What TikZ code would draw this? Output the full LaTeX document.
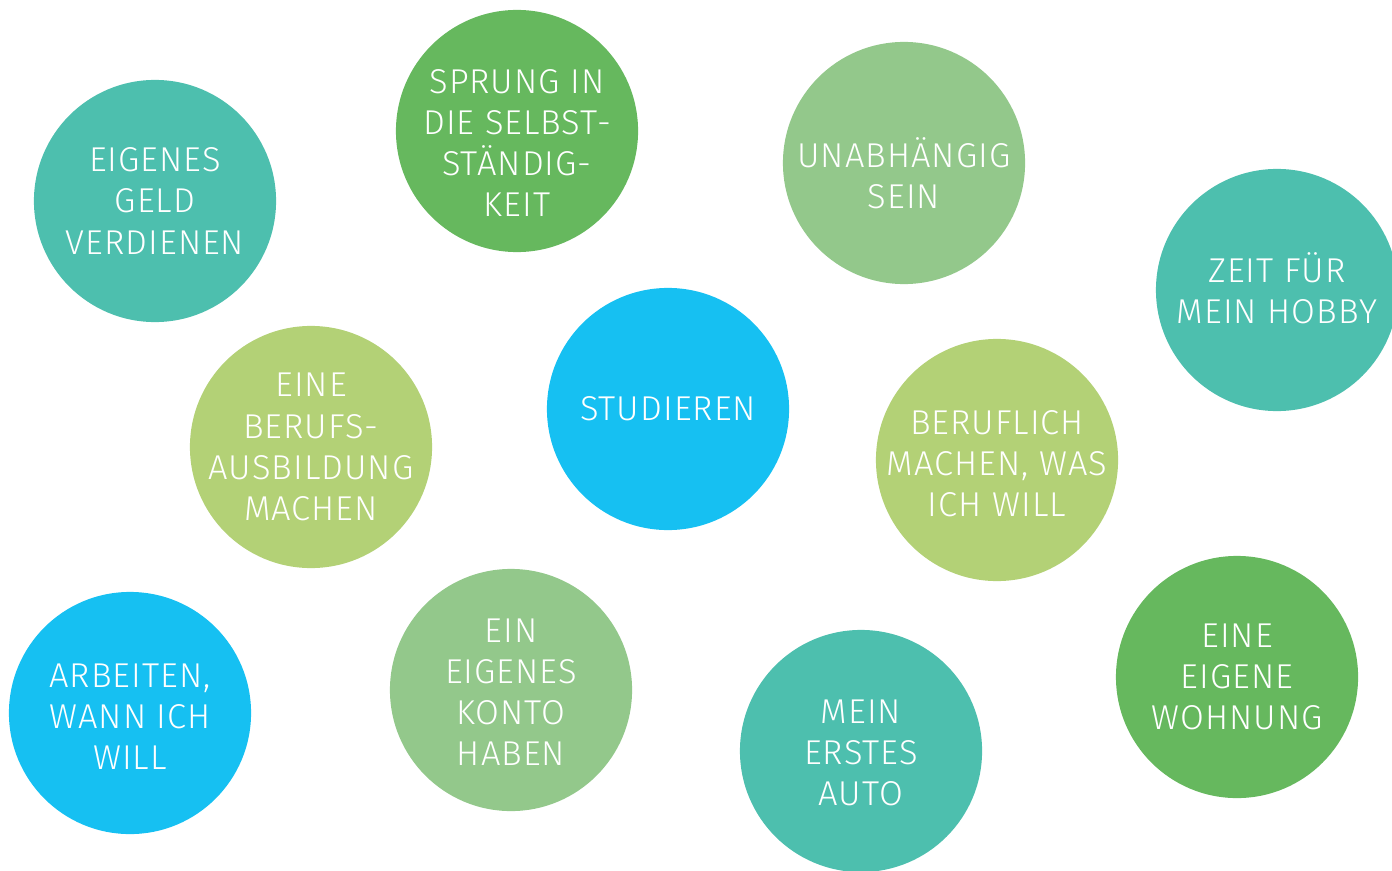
\documentclass[tikz,border=0pt]{standalone}
\usepackage{fontspec}
\setmainfont{Fira Sans Light}[LetterSpace=3]
\usepackage{xcolor}
\definecolor{teal1}{HTML}{4DBFAE}
\definecolor{green1}{HTML}{66B85E}
\definecolor{lightgreen1}{HTML}{93C88B}
\definecolor{yellowgreen1}{HTML}{B3D176}
\definecolor{cyan1}{HTML}{16C0F2}
\tikzset{
  bubble/.style={circle,fill=#1,minimum size=2.42cm,inner sep=0pt},
  bubtext/.style={text=white,align=center,inner sep=0pt,
    font=\fontsize{9.8}{11.7}\selectfont}
}

\begin{document}
\begin{tikzpicture}[x=0.01cm,y=-0.01cm]
    \useasboundingbox (0,0) rectangle (1392,870);
    % circles
    \node[bubble=teal1] (geld) at (155,201) {};
    \node[bubble=green1] (sprung) at (517,131) {};
    \node[bubble=lightgreen1] (unabh) at (904,163) {};
    \node[bubble=teal1] (hobby) at (1277,290) {};
    \node[bubble=yellowgreen1] (ausb) at (311,447) {};
    \node[bubble=cyan1] (stud) at (668,409) {};
    \node[bubble=yellowgreen1] (beruf) at (997,460) {};
    \node[bubble=cyan1] (arbeit) at (130,713) {};
    \node[bubble=lightgreen1] (konto) at (511,690) {};
    \node[bubble=teal1] (auto) at (861,751) {};
    \node[bubble=green1] (wohn) at (1237,677) {};
    % texts
    \node[bubtext] (geld-t) at (geld) {EIGENES\\GELD\\VERDIENEN};
    \node[bubtext,yshift=-0.12cm] (sprung-t) at (sprung) {SPRUNG IN\\DIE SELBST-\\STÄNDIG-\\KEIT};
    \node[bubtext,yshift=-0.1cm] (unabh-t) at (unabh) {UNABHÄNGIG\\SEIN};
    \node[bubtext,yshift=0.02cm] (hobby-t) at (hobby) {ZEIT FÜR\\MEIN HOBBY};
    \node[bubtext] (ausb-t) at (ausb) {EINE\\BERUFS-\\AUSBILDUNG\\MACHEN};
    \node[bubtext] (stud-t) at (stud) {STUDIEREN};
    \node[bubtext,yshift=-0.04cm] (beruf-t) at (beruf) {BERUFLICH\\MACHEN, WAS\\ICH WILL};
    \node[bubtext,yshift=-0.04cm] (arbeit-t) at (arbeit) {ARBEITEN,\\WANN ICH\\WILL};
    \node[bubtext,yshift=-0.02cm] (konto-t) at (konto) {EIN\\EIGENES\\KONTO\\HABEN};
    \node[bubtext,yshift=-0.02cm] (auto-t) at (auto) {MEIN\\ERSTES\\AUTO};
    \node[bubtext] (wohn-t) at (wohn) {EINE\\EIGENE\\WOHNUNG};
  \end{tikzpicture}
\end{document}
